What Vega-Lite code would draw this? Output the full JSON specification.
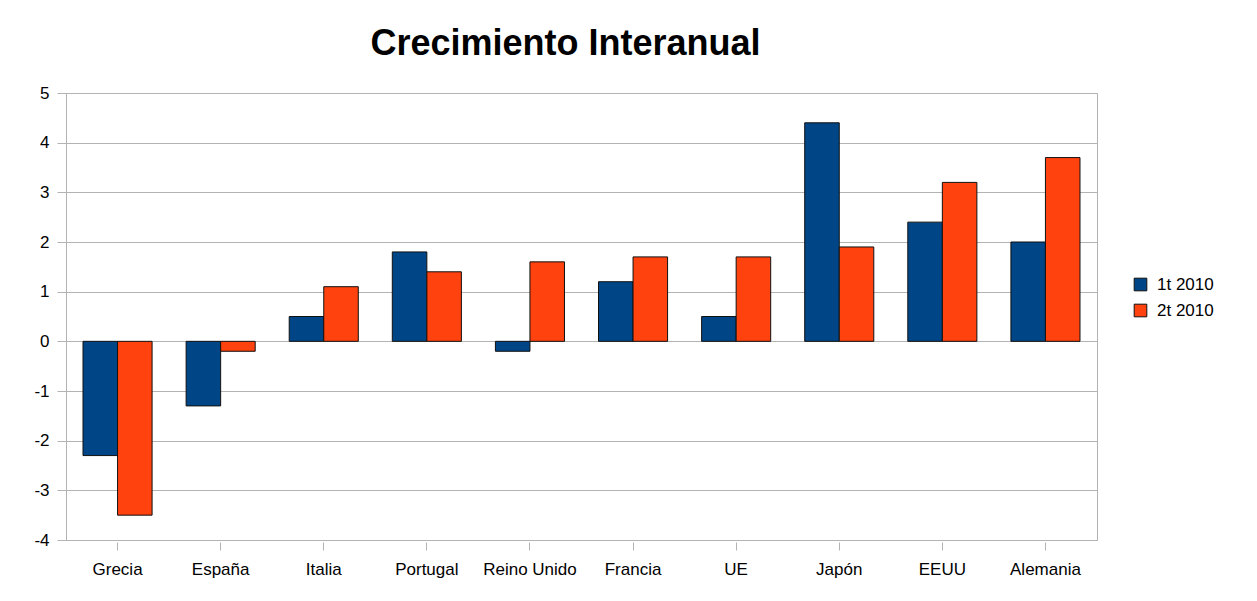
{
  "$schema": "https://vega.github.io/schema/vega-lite/v6.json",
  "autosize": {"type": "none"},
  "width": 1031,
  "height": 447,
  "padding": {"left": 66, "top": 93, "right": 160, "bottom": 61},
  "background": "white",
  "title": {
    "text": "Crecimiento Interanual",
    "font": "Liberation Sans",
    "fontSize": 36,
    "fontWeight": "bold",
    "color": "black",
    "anchor": "middle",
    "dx": -16,
    "offset": 21
  },
  "data": {
    "values": [
      {"pais": "Grecia", "serie": "1t 2010", "valor": -2.3},
      {"pais": "Grecia", "serie": "2t 2010", "valor": -3.5},
      {"pais": "España", "serie": "1t 2010", "valor": -1.3},
      {"pais": "España", "serie": "2t 2010", "valor": -0.2},
      {"pais": "Italia", "serie": "1t 2010", "valor": 0.5},
      {"pais": "Italia", "serie": "2t 2010", "valor": 1.1},
      {"pais": "Portugal", "serie": "1t 2010", "valor": 1.8},
      {"pais": "Portugal", "serie": "2t 2010", "valor": 1.4},
      {"pais": "Reino Unido", "serie": "1t 2010", "valor": -0.2},
      {"pais": "Reino Unido", "serie": "2t 2010", "valor": 1.6},
      {"pais": "Francia", "serie": "1t 2010", "valor": 1.2},
      {"pais": "Francia", "serie": "2t 2010", "valor": 1.7},
      {"pais": "UE", "serie": "1t 2010", "valor": 0.5},
      {"pais": "UE", "serie": "2t 2010", "valor": 1.7},
      {"pais": "Japón", "serie": "1t 2010", "valor": 4.4},
      {"pais": "Japón", "serie": "2t 2010", "valor": 1.9},
      {"pais": "EEUU", "serie": "1t 2010", "valor": 2.4},
      {"pais": "EEUU", "serie": "2t 2010", "valor": 3.2},
      {"pais": "Alemania", "serie": "1t 2010", "valor": 2.0},
      {"pais": "Alemania", "serie": "2t 2010", "valor": 3.7}
    ]
  },
  "mark": {"type": "bar", "stroke": "#111111", "strokeWidth": 1},
  "encoding": {
    "x": {
      "field": "pais",
      "type": "nominal",
      "sort": null,
      "scale": {"paddingInner": 0.33, "paddingOuter": 0.165},
      "axis": {
        "title": null,
        "labelAngle": 0,
        "domain": false,
        "offset": 2,
        "tickSize": 8,
        "tickColor": "#b3b3b3",
        "labelPadding": 11,
        "labelFont": "Liberation Sans",
        "labelFontSize": 17,
        "labelColor": "black",
        "grid": false
      }
    },
    "xOffset": {"field": "serie", "type": "nominal", "scale": {"paddingInner": 0, "paddingOuter": 0}},
    "y": {
      "field": "valor",
      "type": "quantitative",
      "scale": {"domain": [-4, 5], "nice": false, "zero": false},
      "axis": {
        "title": null,
        "values": [-4, -3, -2, -1, 0, 1, 2, 3, 4, 5],
        "labelExpr": "'' + datum.value",
        "tickSize": 9,
        "tickColor": "#b3b3b3",
        "domainColor": "#b3b3b3",
        "gridColor": "#b3b3b3",
        "labelPadding": 8,
        "labelFont": "Liberation Sans",
        "labelFontSize": 17,
        "labelColor": "black"
      }
    },
    "color": {
      "field": "serie",
      "type": "nominal",
      "scale": {"domain": ["1t 2010", "2t 2010"], "range": ["#004586", "#ff420e"]},
      "legend": {
        "title": null,
        "orient": "none",
        "legendX": 1066,
        "legendY": 183,
        "symbolType": "square",
        "symbolSize": 160,
        "symbolStrokeColor": "#111111",
        "symbolStrokeWidth": 1,
        "labelFont": "Liberation Sans",
        "labelFontSize": 17,
        "labelColor": "black",
        "rowPadding": 8,
        "labelOffset": 8
      }
    }
  },
  "config": {
    "view": {"stroke": "#b3b3b3"}
  }
}
